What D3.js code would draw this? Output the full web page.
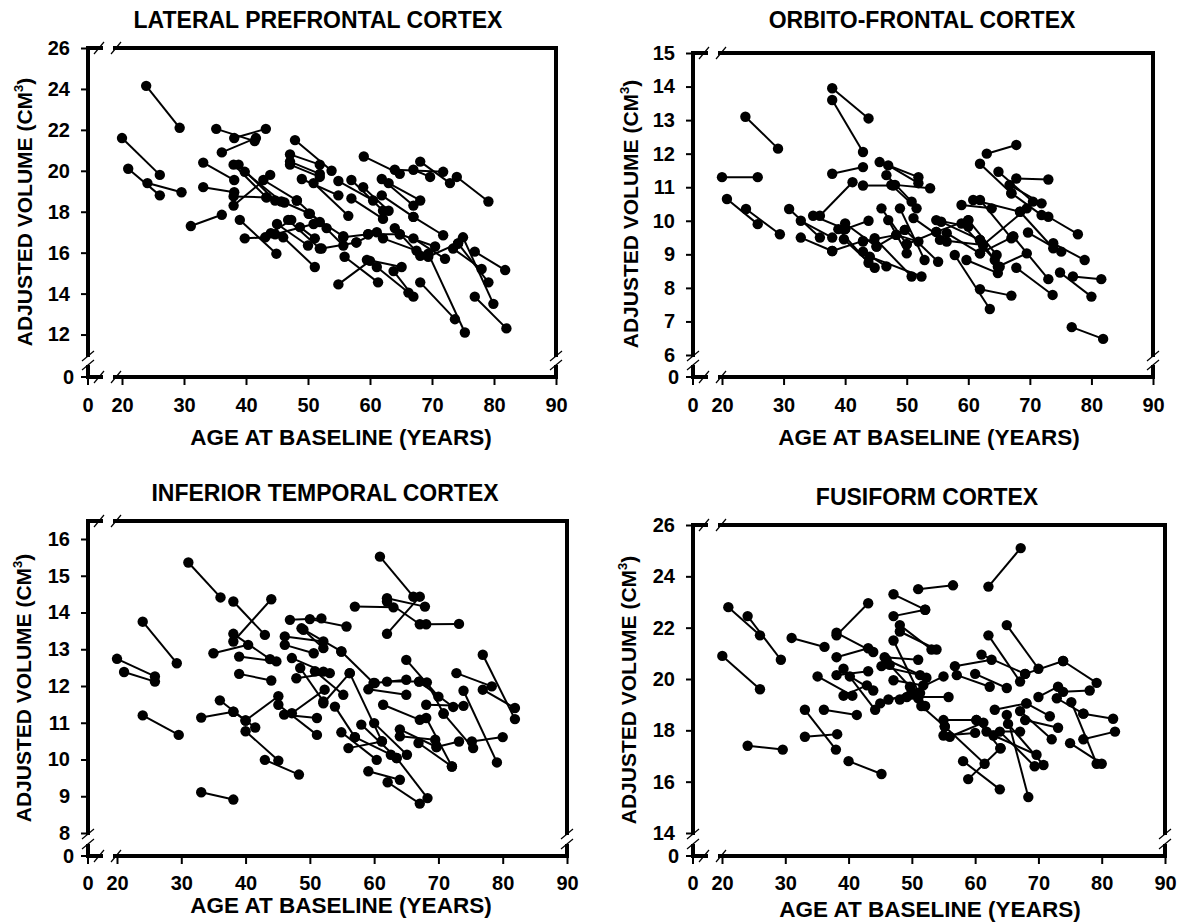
<!DOCTYPE html>
<html>
<head>
<meta charset="utf-8">
<script src="https://cdn.jsdelivr.net/npm/d3@7"></script>
<style>
  html, body { margin: 0; padding: 0; background: #fff; }
  svg { display: block; font-family: "Liberation Sans", Arial, Helvetica, sans-serif; font-weight: bold; }
</style>
</head>
<body>
<svg id="chart" width="1181" height="923"></svg>
<script>
// ---------- DATA: each subject = [baseline age, baseline volume, follow-up age, follow-up volume]
const lpfcSegments = [
  [20.0,21.6,26.1,19.8],[21.0,20.1,26.1,18.8],[24.1,19.4,29.6,18.95],[23.9,24.15,29.3,22.1],
  [31.1,17.3,36.1,17.85],[33.1,20.4,38.1,19.55],[33.1,19.2,38.1,18.95],[35.2,22.05,41.4,21.45],
  [38.1,21.6,43.2,22.05],[36.1,20.9,41.6,21.6],[38.0,20.3,43.3,18.7],[38.8,20.3,44.7,18.55],
  [39.8,19.95,45.7,18.5],[38.0,18.3,43.9,19.8],[38.0,18.75,43.3,18.7],[39.0,17.6,44.9,15.95],
  [39.8,16.7,43.1,16.75],[42.8,19.55,48.2,18.55],[44.7,16.9,50.9,17.4],[45.0,17.4,50.0,16.35],
  [46.8,17.6,51.9,16.2],[46.0,16.75,51.1,15.3],[48.7,17.25,51.1,16.7],[48.2,18.55,53.0,17.2],
  [50.1,17.9,55.7,16.8],[51.9,17.5,55.7,16.35],[47.9,21.5,53.8,20.0],[47.1,20.8,51.9,20.3],
  [47.1,20.45,51.9,19.85],[47.1,20.3,51.9,19.7],[49.0,19.6,54.9,18.8],[50.9,19.4,56.5,17.8],
  [54.9,19.5,60.5,18.55],[57.0,19.55,62.1,18.05],[58.9,19.2,63.0,18.05],[57.0,18.65,62.1,17.65],
  [59.0,20.7,64.8,19.85],[61.9,19.6,67.0,18.3],[63.0,19.4,68.1,18.55],[61.9,18.8,67.0,17.75],
  [64.0,20.05,71.8,19.95],[68.1,20.45,72.9,19.4],[67.0,20.05,69.7,19.7],[74.0,19.7,79.1,18.5],
  [67.0,17.75,71.8,16.85],[55.7,16.75,59.7,16.9],[57.8,16.5,61.1,17.0],[59.7,16.9,64.8,16.9],
  [64.0,17.2,68.1,15.85],[62.1,16.7,67.5,16.1],[64.8,16.9,70.5,16.3],[67.0,16.7,72.1,15.7],
  [69.4,15.8,74.2,16.45],[73.4,16.2,78.0,15.2],[75.0,16.75,79.9,13.5],[74.2,16.45,79.1,14.55],
  [76.9,16.05,81.8,15.15],[76.9,13.85,82.0,12.3],[68.1,14.55,73.7,12.75],[69.4,15.95,75.3,12.1],
  [54.9,14.45,60.0,15.6],[55.9,15.8,61.3,14.55],[61.1,15.3,66.2,14.05],[63.8,15.1,67.0,13.85],
  [59.5,15.65,65.1,15.3],[52.2,16.2,57.8,16.5],[46.2,18.45,50.3,17.9],[44.0,16.95,47.3,17.6]
];
const ofcSegments = [
  [20.0,11.3,25.8,11.3],[20.8,10.65,25.8,9.9],[23.9,10.35,29.4,9.6],[23.8,13.1,29.1,12.15],
  [30.9,10.35,35.9,9.5],[32.8,10.0,37.9,9.5],[32.8,9.5,37.9,9.1],[37.9,13.95,43.8,13.05],
  [37.9,13.6,42.9,12.05],[37.9,11.4,42.9,11.6],[35.9,10.15,41.2,11.15],[34.8,10.15,40.0,9.75],
  [42.9,11.05,47.8,11.05],[40.0,9.75,43.8,10.0],[39.8,9.45,44.8,8.6],[38.9,9.75,43.8,8.75],
  [37.9,9.1,42.9,9.4],[40.0,9.92,45.1,9.23],[42.9,9.38,48.3,9.58],[45.6,11.75,51.9,11.3],
  [47.0,11.65,51.9,11.12],[46.7,11.36,50.8,10.57],[48.1,11.07,53.8,10.97],[47.5,11.07,51.6,10.37],
  [45.9,10.37,50.0,9.3],[47.0,10.02,50.0,9.03],[44.8,9.48,50.8,8.34],[45.1,9.23,49.7,9.73],
  [42.9,9.08,46.7,8.64],[44.0,8.93,52.4,8.34],[48.9,10.37,52.9,8.83],[49.7,9.73,55.1,8.78],
  [48.3,9.58,51.9,9.38],[51.1,10.08,56.5,9.38],[50.0,9.3,54.8,9.67],[54.8,10.02,60.0,9.83],
  [55.6,9.97,61.9,9.43],[54.8,9.67,60.0,10.02],[56.5,9.63,61.9,9.03],[55.4,9.43,62.4,9.28],
  [58.9,9.92,64.3,8.83],[60.0,10.02,64.6,8.98],[58.9,10.47,63.8,10.37],[60.8,10.62,68.4,10.27],
  [61.9,10.62,67.0,9.48],[62.4,9.28,69.5,10.37],[61.9,9.03,67.3,9.53],[61.9,9.43,65.1,8.63],
  [59.7,8.83,64.8,8.44],[57.8,8.98,63.5,7.37],[61.9,7.96,67.0,7.77],[67.8,8.6,73.7,7.79],
  [67.3,9.53,73.0,8.26],[64.8,8.63,69.5,9.03],[69.7,9.65,75.1,9.08],[73.8,9.33,78.9,8.83],
  [74.9,8.46,80.0,7.74],[77.0,8.34,81.6,8.26],[76.8,6.83,81.9,6.48],[61.9,11.7,67.0,10.82],
  [66.7,11.07,71.9,10.52],[64.9,11.46,70.5,10.57],[67.0,10.82,71.9,10.17],[73.0,10.12,77.8,9.6],
  [63.0,12.0,67.8,12.26],[67.8,11.26,73.0,11.23],[68.4,10.27,73.8,9.18]
];
const itcSegments = [
  [20.0,12.74,25.9,12.26],[21.1,12.38,25.9,12.12],[24.0,13.75,29.3,12.62],[24.0,11.2,29.6,10.67],
  [31.1,15.36,36.1,14.41],[38.1,14.3,43.0,13.39],[38.1,13.21,44.0,14.36],[38.1,13.42,43.8,12.73],
  [35.0,12.89,40.4,13.12],[39.0,12.8,44.8,12.67],[39.0,12.33,44.0,12.15],[33.1,11.14,38.1,11.3],
  [36.0,11.61,40.0,11.06],[38.1,11.3,41.5,10.87],[40.0,11.06,45.1,11.72],[40.0,10.77,45.1,9.97],
  [43.0,9.99,48.3,9.59],[33.1,9.11,38.1,8.91],[45.1,11.49,51.1,10.67],[46.0,11.22,51.1,11.13],
  [47.2,11.26,52.3,11.9],[46.9,13.8,51.8,13.84],[50.0,13.82,55.7,13.62],[48.7,13.57,54.9,12.94],
  [46.1,13.35,52.1,13.21],[46.1,13.12,50.6,12.89],[49.0,13.53,52.1,13.03],[47.2,12.76,52.1,12.39],
  [47.9,12.21,53.1,12.35],[48.5,12.49,52.1,11.58],[50.8,12.4,55.2,11.76],[52.1,11.53,56.2,12.35],
  [60.9,15.52,66.1,14.43],[62.0,14.39,67.9,14.16],[62.0,13.42,67.1,14.43],[57.0,14.16,63.0,14.14],
  [62.0,14.3,67.1,13.68],[68.1,13.68,73.2,13.69],[65.0,12.71,70.0,11.71],[76.9,12.85,81.9,11.1],
  [72.8,12.35,78.3,11.99],[76.9,11.9,81.9,11.4],[73.9,11.87,79.1,9.92],[60.1,12.08,65.0,12.17],
  [62.0,12.12,67.0,12.12],[67.0,12.12,72.3,11.43],[68.2,12.1,70.8,11.25],[68.1,11.49,73.9,11.46],
  [59.1,11.91,65.0,11.76],[61.4,11.49,67.1,11.08],[64.0,10.82,69.7,10.34],[64.0,10.63,69.5,10.54],
  [68.1,11.13,72.1,9.81],[75.2,10.49,80.0,10.61],[69.7,10.34,73.2,10.49],[70.8,11.25,75.4,10.31],
  [60.0,10.99,65.1,10.13],[58.0,10.95,63.5,10.04],[56.0,10.31,61.2,10.49],[54.9,10.74,60.4,9.99],
  [57.0,10.61,62.6,10.13],[59.1,9.68,64.0,9.45],[62.1,9.38,67.1,8.8],[63.5,10.04,68.3,8.95],
  [56.2,12.35,61.2,10.5],[66.9,10.45,72.1,9.81],[54.9,12.94,59.9,12.08],[53.9,11.44,57.0,10.61]
];
const fusSegments = [
  [21.0,22.8,26.0,21.7],[24.05,22.45,29.3,20.75],[20.05,20.9,26.0,19.6],[24.05,17.4,29.6,17.25],
  [31.0,21.6,36.2,21.25],[33.1,18.8,38.0,17.25],[33.1,17.75,38.2,17.85],[36.1,18.8,41.3,18.6],
  [40.0,16.8,45.2,16.3],[35.1,20.1,40.6,19.35],[38.1,21.7,43.1,22.95],[38.1,21.8,43.9,21.05],
  [38.1,20.85,43.1,21.2],[38.1,20.15,43.1,20.3],[39.2,20.4,44.2,18.8],[39.2,19.35,42.9,19.75],
  [40.2,20.1,43.9,19.55],[47.1,23.3,52.1,22.7],[47.1,22.45,52.1,22.7],[48.1,22.1,53.1,21.15],
  [48.1,21.85,53.9,21.15],[47.1,21.5,52.1,18.95],[51.0,23.5,56.5,23.65],[45.7,20.85,51.0,20.75],
  [45.2,20.5,51.3,20.15],[46.0,20.75,52.3,20.05],[47.1,19.95,51.8,19.75],[46.5,20.55,49.7,19.7],
  [45.0,19.05,50.0,19.5],[46.3,19.2,51.3,19.45],[48.1,19.2,51.0,19.25],[50.0,19.5,55.0,20.1],
  [49.2,19.3,55.8,19.3],[51.5,18.95,55.2,18.15],[55.0,18.4,60.2,18.4],[55.0,17.8,60.0,17.9],
  [56.0,17.75,61.3,18.3],[55.2,18.15,61.5,16.7],[56.8,20.5,62.6,20.75],[57.1,20.15,62.3,19.7],
  [60.0,20.2,65.0,19.65],[61.0,20.95,67.9,20.2],[62.1,21.7,67.1,19.9],[65.0,22.1,70.0,20.4],
  [62.1,23.6,67.2,25.1],[67.9,20.2,73.9,20.7],[73.9,20.7,79.2,19.85],[70.0,19.3,73.1,19.7],
  [73.9,19.5,78.1,19.55],[68.1,19.05,71.8,18.55],[67.1,18.75,72.1,17.65],[67.9,18.4,73.1,18.1],
  [63.1,18.8,68.1,19.05],[65.2,18.25,70.8,16.65],[65.0,18.6,68.4,15.4],[61.8,17.95,67.1,17.95],
  [62.9,17.8,69.7,17.05],[63.9,17.95,69.4,16.6],[60.2,18.4,64.0,17.3],[58.1,16.8,63.9,15.7],
  [58.9,16.1,64.0,17.3],[77.1,18.65,81.8,18.45],[77.1,17.65,82.1,17.95],[75.0,17.5,80.0,16.7],
  [75.2,19.1,79.2,16.7],[72.9,19.25,77.1,18.65]
];

const panelTitles = ["LATERAL PREFRONTAL CORTEX", "ORBITO-FRONTAL CORTEX", "INFERIOR TEMPORAL CORTEX", "FUSIFORM CORTEX"];
const xTickValues = [20, 30, 40, 50, 60, 70, 80, 90];
const lpfcYTicks = [12, 14, 16, 18, 20, 22, 24, 26];
const ofcYTicks = [6, 7, 8, 9, 10, 11, 12, 13, 14, 15];
const itcYTicks = [8, 9, 10, 11, 12, 13, 14, 15, 16];
const fusYTicks = [14, 16, 18, 20, 22, 24, 26];
const xTitle = "AGE AT BASELINE (YEARS)";

// ---------- LAYOUT (pixel geometry, kept separate from data)
const layouts = [
  { data: lpfcSegments, yTicks: lpfcYTicks, left: 88, x20: 122, x90: 556, top: 48, yLo: 11, yLoPx: 355, yHi: 26, yHiPx: 48, zero: 377,
    titleX: 318, titleY: 28, xTitleX: 341, xTitleY: 445, yTitleX: 25, yTitleY: 212, tickLabelY: 412 },
  { data: ofcSegments, yTicks: ofcYTicks, left: 693, x20: 722, x90: 1153, top: 53, yLo: 6, yLoPx: 355, yHi: 15, yHiPx: 53, zero: 377,
    titleX: 922, titleY: 28, xTitleX: 929, xTitleY: 445, yTitleX: 631, yTitleY: 214, tickLabelY: 412 },
  { data: itcSegments, yTicks: itcYTicks, left: 88, x20: 117, x90: 567, top: 521, yLo: 8, yLoPx: 833, yHi: 16, yHiPx: 539, zero: 856,
    titleX: 325, titleY: 501, xTitleX: 341, xTitleY: 913, yTitleX: 24, yTitleY: 688, tickLabelY: 890 },
  { data: fusSegments, yTicks: fusYTicks, left: 693, x20: 722, x90: 1165, top: 525, yLo: 14, yLoPx: 833, yHi: 26, yHiPx: 525, zero: 856,
    titleX: 927, titleY: 505, xTitleX: 930, xTitleY: 917, yTitleX: 629, yTitleY: 690, tickLabelY: 890 }
];

const svg = d3.select("#chart");
const TICK_FONT = 20, TITLE_FONT = 23, XTITLE_FONT = 22.5, YTITLE_FONT = 21;

layouts.forEach((L, i) => {
  const g = svg.append("g");
  const x = d3.scaleLinear().domain([20, 90]).range([L.x20, L.x90]);
  const y = d3.scaleLinear().domain([L.yLo, L.yHi]).range([L.yLoPx, L.yHiPx]);
  const right = L.x90;
  const gapA = L.left + 13, gapB = L.left + 27;
  const stubTop = L.zero - 10;

  const thick = (x1, y1, x2, y2) => g.append("line")
    .attr("x1", x1).attr("y1", y1).attr("x2", x2).attr("y2", y2)
    .attr("stroke", "#000").attr("stroke-width", 4).attr("stroke-linecap", "square");
  const slash = (cx, cy, dx, dy) => g.append("line")
    .attr("x1", cx - dx).attr("y1", cy + dy).attr("x2", cx + dx).attr("y2", cy - dy)
    .attr("stroke", "#000").attr("stroke-width", 1.2);

  // frame with breaks
  thick(L.left, L.top, gapA, L.top);
  thick(gapB, L.top, right, L.top);
  thick(L.left, L.zero, gapA, L.zero);
  thick(gapB, L.zero, right, L.zero);
  thick(L.left, L.top, L.left, L.yLoPx);
  thick(L.left, stubTop, L.left, L.zero);
  thick(right, L.top, right, L.yLoPx);
  thick(right, stubTop, right, L.zero);
  [L.top, L.zero].forEach(yy => { slash(L.left + 11, yy, 5, 6); slash(L.left + 28, yy, 5, 6); });
  [L.left, right].forEach(xx => { slash(xx, L.yLoPx + 1, 6, 5); slash(xx, stubTop - 2, 6, 5); });

  // y axis ticks + labels
  const yAxis = d3.axisLeft(y).tickValues(L.yTicks).tickSize(5).tickPadding(11).tickFormat(d3.format("d"));
  const ya = g.append("g").attr("transform", `translate(${L.left - 2},0)`).call(yAxis);
  ya.select(".domain").remove();
  ya.selectAll("line").attr("stroke", "#000").attr("stroke-width", 2);
  ya.selectAll("text").attr("font-size", TICK_FONT).attr("font-weight", "bold")
    .attr("font-family", "'Liberation Sans', Arial, sans-serif").attr("fill", "#000");
  // zero tick (below break)
  g.append("line").attr("x1", L.left - 7).attr("x2", L.left).attr("y1", L.zero).attr("y2", L.zero)
    .attr("stroke", "#000").attr("stroke-width", 2);
  g.append("text").attr("x", L.left - 14).attr("y", L.zero).attr("dy", "0.35em")
    .attr("text-anchor", "end").attr("font-size", TICK_FONT).text("0");

  // x axis ticks + labels
  const xAxis = d3.axisBottom(x).tickValues(xTickValues).tickSize(6).tickPadding(0).tickFormat(d3.format("d"));
  const xa = g.append("g").attr("transform", `translate(0,${L.zero + 2})`).call(xAxis);
  xa.select(".domain").remove();
  xa.selectAll("line").attr("stroke", "#000").attr("stroke-width", 2);
  xa.selectAll("text").attr("y", null).attr("dy", null)
    .attr("transform", `translate(0,${L.tickLabelY - L.zero - 2})`)
    .attr("font-size", TICK_FONT).attr("font-weight", "bold")
    .attr("font-family", "'Liberation Sans', Arial, sans-serif").attr("fill", "#000");
  g.append("line").attr("x1", L.left).attr("x2", L.left).attr("y1", L.zero).attr("y2", L.zero + 8)
    .attr("stroke", "#000").attr("stroke-width", 2);
  g.append("text").attr("x", L.left).attr("y", L.tickLabelY).attr("text-anchor", "middle")
    .attr("font-size", TICK_FONT).text("0");

  // titles
  g.append("text").attr("x", L.titleX).attr("y", L.titleY).attr("text-anchor", "middle")
    .attr("font-size", TITLE_FONT).text(panelTitles[i]);
  g.append("text").attr("x", L.xTitleX).attr("y", L.xTitleY).attr("text-anchor", "middle")
    .attr("font-size", XTITLE_FONT).text(xTitle);
  const yt = g.append("text")
    .attr("transform", `translate(${L.yTitleX + 7},${L.yTitleY}) rotate(-90)`)
    .attr("text-anchor", "middle").attr("font-size", YTITLE_FONT);
  yt.append("tspan").text("ADJUSTED VOLUME (CM");
  yt.append("tspan").attr("font-size", 13).attr("dy", -9).text("3");
  yt.append("tspan").attr("dy", 9).text(")");

  // data
  const marks = g.append("g");
  marks.selectAll("line.seg").data(L.data).join("line").attr("class", "seg")
    .attr("x1", d => x(d[0])).attr("y1", d => y(d[1]))
    .attr("x2", d => x(d[2])).attr("y2", d => y(d[3]))
    .attr("stroke", "#000").attr("stroke-width", 2);
  const pts = L.data.flatMap(d => [[d[0], d[1]], [d[2], d[3]]]);
  marks.selectAll("circle").data(pts).join("circle")
    .attr("cx", d => x(d[0])).attr("cy", d => y(d[1])).attr("r", 5.2).attr("fill", "#000");
});
</script>
</body>
</html>
